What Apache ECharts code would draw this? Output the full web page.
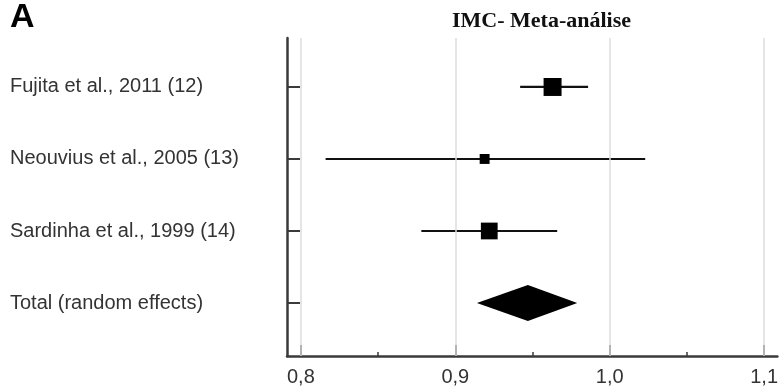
<!DOCTYPE html>
<html>
<head>
<meta charset="utf-8">
<script src="https://cdn.jsdelivr.net/npm/echarts@6.0.0/dist/echarts.min.js"></script>
<style>
html,body{margin:0;padding:0;background:#fff;}
#chart{width:781px;height:387px;}
</style>
</head>
<body>
<div id="chart"></div>
<script>
// ---- data ----
const panelLetter = 'A';
const chartTitle = 'IMC- Meta-análise';
const studies = ['Fujita et al., 2011 (12)', 'Neouvius et al., 2005 (13)', 'Sardinha et al., 1999 (14)'];
const estimates = [0.963, 0.919, 0.922];
const lowerCI = [0.942, 0.816, 0.878];
const upperCI = [0.986, 1.023, 0.966];
const weights = [46, 14, 40];
const totalLabel = 'Total (random effects)';
const totalEstimate = 0.947;
const totalLower = 0.914;
const totalUpper = 0.979;
const xTicks = [0.8, 0.9, 1.0, 1.1];
const xTickLabels = ['0,8', '0,9', '1,0', '1,1'];
const xMinorTicks = [0.85, 0.95, 1.05];

// ---- build ----
const rowNames = studies.concat([totalLabel]);
const nRows = rowNames.length;
const rowY = i => nRows - i; // top row highest
const rowValues = rowNames.map((_, i) => rowY(i));

const studyData = studies.map((s, i) => [lowerCI[i], upperCI[i], estimates[i], rowY(i), weights[i]]);
const totalData = [[totalLower, totalUpper, totalEstimate, rowY(nRows - 1)]];

const chart = echarts.init(document.getElementById('chart'), null, {renderer: 'canvas'});
const axisColor = '#3a3a3a';
const txtColor = '#333';

chart.setOption({
  animation: false,
  backgroundColor: '#fff',
  title: [
    {text: panelLetter, left: 5, top: -4,
     textStyle: {fontFamily: 'Liberation Sans', fontWeight: 'bold', fontSize: 34, color: '#000'}},
    {text: chartTitle, left: 447, top: 5,
     textStyle: {fontFamily: 'Liberation Serif', fontWeight: 'bold', fontSize: 22, color: '#111'}}
  ],
  grid: {left: 287, right: 1, top: 38, bottom: 31, containLabel: false},
  xAxis: [
    {
      type: 'value', min: 0.791, max: 1.1086, position: 'bottom',
      axisLine: {show: true, lineStyle: {color: axisColor, width: 2.5}},
      axisTick: {show: true, inside: true, length: 11, customValues: xTicks,
                 lineStyle: {color: axisColor, width: 2}},
      axisLabel: {show: true, customValues: xTicks, margin: 11,
                  formatter: v => { const k = xTicks.findIndex(t => Math.abs(t - v) < 1e-6); return k >= 0 ? xTickLabels[k] : ''; },
                  fontFamily: 'Liberation Sans', fontSize: 20, color: txtColor},
      splitLine: {show: false}
    },
    {
      type: 'value', min: 0.791, max: 1.1086, position: 'bottom',
      axisLine: {show: false},
      axisTick: {show: true, inside: true, length: 4, customValues: xMinorTicks,
                 lineStyle: {color: axisColor, width: 1.5}},
      axisLabel: {show: false},
      splitLine: {show: false}
    }
  ],
  yAxis: {
    type: 'value', min: 0.264, max: 4.68,
    axisLine: {show: true, lineStyle: {color: axisColor, width: 2.5}},
    axisTick: {show: true, inside: true, length: 13, customValues: rowValues,
               lineStyle: {color: axisColor, width: 2}},
    axisLabel: {show: true, customValues: rowValues, align: 'left', margin: 277,
                formatter: v => { const i = nRows - Math.round(v); return rowNames[i] || ''; },
                fontFamily: 'Liberation Sans', fontSize: 20, color: txtColor},
    splitLine: {show: false}
  },
  series: [
    {
      type: 'custom',
      xAxisIndex: 0,
      data: studyData,
      z: 3,
      markLine: {
        silent: true, symbol: ['none', 'none'], label: {show: false},
        lineStyle: {color: '#dcdcdc', width: 1.5, type: 'solid'},
        data: xTicks.map(t => ({xAxis: t}))
      },
      renderItem: (params, api) => {
        const lo = api.coord([api.value(0), api.value(3)]);
        const hi = api.coord([api.value(1), api.value(3)]);
        const c = api.coord([api.value(2), api.value(3)]);
        const side = 2.65 * Math.sqrt(api.value(4));
        return {
          type: 'group',
          children: [
            {type: 'line', shape: {x1: lo[0], y1: lo[1], x2: hi[0], y2: hi[1]},
             style: {stroke: '#111', lineWidth: 2.2}},
            {type: 'rect', shape: {x: c[0] - side / 2, y: c[1] - side / 2, width: side, height: side},
             style: {fill: '#000'}}
          ]
        };
      }
    },
    {
      type: 'custom',
      xAxisIndex: 0,
      data: totalData,
      z: 3,
      renderItem: (params, api) => {
        const y = api.value(3);
        const p1 = api.coord([api.value(0), y]);
        const p2 = api.coord([api.value(2), y + 0.25]);
        const p3 = api.coord([api.value(1), y]);
        const p4 = api.coord([api.value(2), y - 0.25]);
        return {type: 'polygon', shape: {points: [p1, p2, p3, p4]}, style: {fill: '#000'}};
      }
    }
  ]
});
</script>
</body>
</html>
